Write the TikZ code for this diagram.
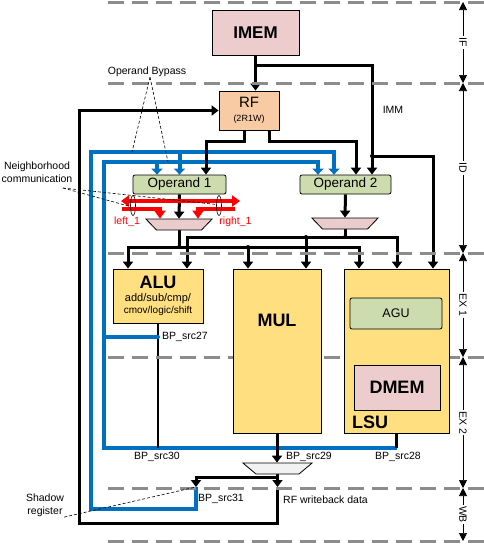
\documentclass[tikz,border=0pt]{standalone}
\usepackage{fontspec}
\setmainfont{Liberation Sans}
\usetikzlibrary{arrows.meta,shapes.geometric}
\pgfdeclarelayer{bg}
\pgfsetlayers{bg,main}
\definecolor{imemc}{HTML}{ECCCCC}
\definecolor{rfc}{HTML}{F9CBA4}
\definecolor{opc}{HTML}{CCDCAE}
\definecolor{exc}{HTML}{FFDF80}
\definecolor{muxc}{HTML}{EBCCCC}
\definecolor{wbmuxc}{HTML}{F2F2F2}
\definecolor{bpblue}{HTML}{0070C0}
\definecolor{stagegray}{HTML}{8C8C8C}
\tikzset{
  box/.style={draw, line width=0.8pt, inner sep=0pt},
  membox/.style={box, fill=imemc},
  opbox/.style={box, fill=opc, rounded corners=2pt},
  exbox/.style={box, fill=exc},
  muxbox/.style={draw, line width=0.8pt, trapezium, shape border rotate=180, inner ysep=5.5pt},
  wire/.style={line width=3pt, >={Triangle[width=10pt,length=7pt]}},
  bypass/.style={line width=4pt, draw=bpblue, >={Triangle[width=11pt,length=6pt]}},
  nbcomm/.style={line width=4pt, draw=red, >={Triangle[width=11pt,length=8pt]}},
  leader/.style={line width=0.6pt, dash pattern=on 3pt off 2pt},
  stagesep/.style={draw=stagegray, line width=3pt, dash pattern=on 16pt off 8pt},
  stagearrow/.style={line width=0.7pt, <->, >={Triangle[width=8pt,length=8pt]}},
  lbl/.style={font=\fontsize{10.5}{13}\selectfont, inner sep=0pt},
  ring/.style={ellipse, draw, line width=0.6pt, minimum width=5pt, minimum height=20pt, inner sep=0pt},
}
\begin{document}
\begin{tikzpicture}[x=1pt,y=-1pt]
        \useasboundingbox (0,0) rectangle (484,544);
        % pipeline stages
        \foreach \y in {2,83,253,357,488,541}
                \draw[stagesep] (108,\y) -- (484,\y);
        \coordinate (b0) at (463,2);
        \coordinate (b1) at (463,83);
        \coordinate (b2) at (463,253);
        \coordinate (b3) at (463,357);
        \coordinate (b4) at (463,488);
        \coordinate (b5) at (463,541);
        \foreach \s/\e/\t in {b0/b1/IF,b1/b2/ID,b2/b3/EX 1,b3/b4/EX 2,b4/b5/WB}
                \draw[stagearrow] (\s) -- (\e) node[midway, lbl, fill=white, inner sep=1.5pt, rotate=-90] {\t};
        % blocks
        \node (imem) [membox, minimum width=87, minimum height=45, font=\bfseries\fontsize{17}{17}\selectfont] at (255.5,32.5) {IMEM};
        \node (rf) [box, fill=rfc, minimum width=60, minimum height=39, align=center] at (249,110.5) {\fontsize{15}{15}\selectfont RF\\[2pt]\fontsize{9}{9}\selectfont (2R1W)};
        \node (op1) [opbox, minimum width=93, minimum height=19, font=\fontsize{13.5}{14}\selectfont] at (179.5,184.5) {Operand 1};
        \node (op2) [opbox, minimum width=91, minimum height=19, font=\fontsize{13.5}{14}\selectfont] at (345.5,184.5) {Operand 2};
        \node (mux1) [muxbox, fill=muxc, inner xsep=22.5pt, trapezium angle=46] at (179,224.5) {};
        \node (mux2) [muxbox, fill=muxc, inner xsep=22.5pt, trapezium angle=46] at (345,223.5) {};
        \node (alu) [exbox, minimum width=90, minimum height=54, align=center] at (158,296) {{\bfseries\fontsize{18}{18}\selectfont ALU}\\[1pt]\fontsize{11}{13}\selectfont add/sub/cmp/\\cmov/logic/shift};
        \node (mul) [exbox, minimum width=88, minimum height=164, label={[yshift=31, font=\bfseries\fontsize{18}{18}\selectfont]center:MUL}] at (277,351) {};
        \node (lsu) [exbox, minimum width=105, minimum height=164, label={[anchor=base west, xshift=5, yshift=5, font=\bfseries\fontsize{18}{18}\selectfont]south west:LSU}] at (396.5,351) {};
        \node (agu) [opbox, minimum width=92, minimum height=31, font=\fontsize{12.5}{13}\selectfont] at (396,313.5) {AGU};
        \node (dmem) [membox, minimum width=86, minimum height=45, font=\bfseries\fontsize{18}{18}\selectfont] at (397,387.5) {DMEM};
        \node (wbmux) [muxbox, fill=wbmuxc, inner xsep=21.5pt, trapezium angle=40] at (277.5,468.5) {};
        % labels
        \node (bypass) [lbl] at (147,72) {Operand Bypass};
        \node (nbh) [lbl, align=center] at (37,172.5) {Neighborhood\\communication};
        \node (shadow) [lbl, align=center] at (45,505.5) {Shadow\\register};
        \node (imm) [lbl] at (393,110) {IMM};
        \node (src27) [lbl, anchor=west] at (162,337) {BP\_src27};
        \node (src30) [lbl] at (157,457) {BP\_src30};
        \node (src29) [lbl, anchor=west] at (286,457) {BP\_src29};
        \node (src28) [lbl, anchor=west] at (375,457) {BP\_src28};
        \node (src31) [lbl, anchor=west] at (198,499) {BP\_src31};
        \node (rfwb) [lbl, anchor=west] at (283,500) {RF writeback data};
        \node (left1) [lbl, text=red] at (127,222) {left\_1};
        \node (right1) [lbl, text=red] at (235.5,222) {right\_1};
        % junctions
        \coordinate (immsplit) at (255.5,65);
        \coordinate (immtap) at (372,156);
        \coordinate (bus1) at (179,247);
        \coordinate (bus2) at (345,237);
        \coordinate (wbreg) at (277.5,487);
        \coordinate (shreg) at (196,487);
        \coordinate (bpouter) at (91,152);
        \coordinate (bpinner) at (104,162);
        \coordinate (bpbus) at (104,448);
        \coordinate (loop) at (79,523);
        \coordinate (nbl) at (121,201);
        \coordinate (nbr) at (240,201);
        \coordinate (nbl2) at (122,209);
        \coordinate (nbr2) at (235,209);
        \coordinate (nbtip) at (63,188);
        \coordinate (bypassa) at (132,152);
        \coordinate (bypassb) at (168,162);
        \begin{pgfonlayer}{bg}
                \draw[bypass,->] (shreg) -- ++(0,22) -| (bpouter) -| ([xshift=-11.5]op2.north);
                \draw[bypass,->] (bpouter -| op1.north) -- (op1.north);
                \draw[bypass,->] ([yshift=-15]lsu.south) -| (bpinner) -| ([xshift=-27.5]op2.north);
                \draw[bypass,->] ([xshift=-22.5]op1.north |- bpinner) -- ([xshift=-22.5]op1.north);
                \draw[bypass] (bpinner |- src27) -- (alu.south |- src27);
                \draw[wire,->] (imem.south) -- (imem.south |- rf.north);
                \draw[wire,->] (immsplit) -| ([xshift=26.5]op2.north);
                \draw[wire,->] (immtap) -| ([xshift=36.5]lsu.north);
                \draw[wire,->] ([xshift=-5]rf.south) -- ++(0,11) -| ([xshift=26.5]op1.north);
                \draw[wire,->] ([xshift=20]rf.south) -- ++(0,11) -| ([xshift=10.5]op2.north);
                \draw[wire,->] (op1.south) -- (mux1.north);
                \draw[wire,->] (op2.south) -- (mux2.north);
                \draw[wire] (mux1.south) -- (bus1);
                \draw[wire] (mux2.south) -- (bus2);
                \draw[wire,->] (bus1) -| ([xshift=-30]alu.north);
                \draw[wire,->] (bus1) -| ([xshift=-37.5]lsu.north);
                \draw[wire,->] ([xshift=-29]mul.north |- bus1) -- ([xshift=-29]mul.north);
                \draw[wire,->] (bus2) -| ([xshift=29]alu.north);
                \draw[wire,->] (bus2) -| ([xshift=0.5]lsu.north);
                \draw[wire,->] ([xshift=29]mul.north |- bus2) -- ([xshift=29]mul.north);
                \draw[wire, line width=2.3pt] (alu.south) -- (alu.south |- bpbus);
                \draw[wire] (lsu.south) -- (lsu.south |- bpbus);
                \draw[wire,->] (mul.south) -- (mul.south |- wbmux.north);
                \draw[wire,->] (wbmux.south) -- (wbreg);
                \draw[wire,->] ([yshift=-3]wbmux.south) -| (shreg);
                \draw[wire,->] (wbreg) |- (loop) |- (rf.west);
                \fill (immtap) circle (2pt);
                \fill (bus1) circle (2pt);
                \fill (bus2) circle (2pt);
                \fill ([xshift=-29]mul.north |- bus1) circle (2pt);
                \fill ([xshift=29]mul.north |- bus2) circle (2pt);
                \fill[bpblue] (alu.south |- src27) circle (2pt);
                \draw[nbcomm,<->] (nbl) -- (nbr);
                \draw[nbcomm,->] (nbl2) -| ([xshift=-19]mux1.north);
                \draw[nbcomm,->] (nbr2) -| ([xshift=19]mux1.north);
                \fill[red] (op1.south |- nbl) circle (2.5pt);
        \end{pgfonlayer}
        \node (ell1) [ring] at (133,205.5) {};
        \node (ell2) [ring] at (219,205.5) {};
        \draw[leader] ([xshift=3]bypass.south) -- (bypassa);
        \draw[leader] ([xshift=3]bypass.south) -- (bypassb);
        \draw[leader] (nbtip) -- (ell2.160);
        \draw[leader] (nbtip) -- (ell1.200);
        \draw[leader] (shadow.south east) -- (shreg);
\end{tikzpicture}
\end{document}
